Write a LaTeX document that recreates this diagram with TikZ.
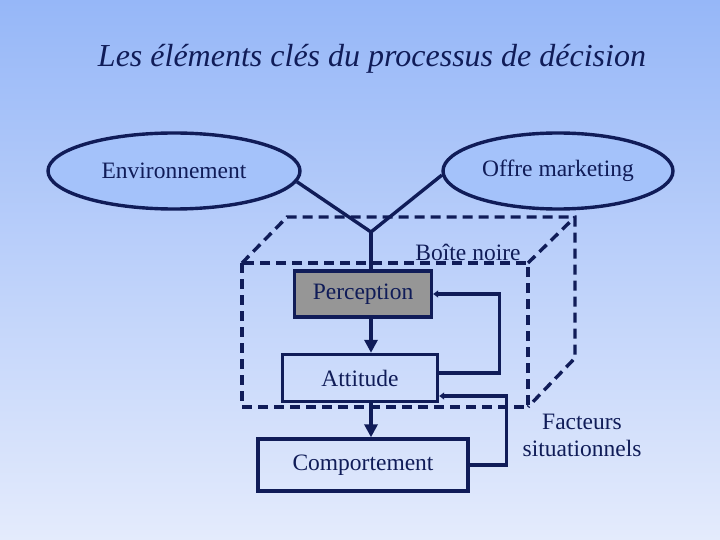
\documentclass[tikz,border=0pt]{standalone}
\usepackage{fontspec}
\setmainfont{Liberation Serif}
\usetikzlibrary{shapes.geometric,arrows.meta}
\definecolor{navy}{RGB}{16,28,88}
\definecolor{bgtop}{RGB}{150,183,248}
\definecolor{bgbot}{RGB}{228,235,252}
\definecolor{ovalfill}{RGB}{164,194,250}
\definecolor{percfill}{RGB}{150,150,150}

\begin{document}
\begin{tikzpicture}[x=1pt,y=-1pt,line width=3.4pt,draw=navy,
  every node/.style={text=navy,font=\fontsize{23.5}{27}\selectfont},
  oval/.style={ellipse,draw=navy,fill=ovalfill,inner sep=0pt},
  box/.style={rectangle,draw=navy,inner sep=0pt},
  cube/.style={dash pattern=on 10pt off 6pt},
  fleche/.style={-{Triangle[width=13pt,length=13pt]}},
  petite/.style={-{Triangle[width=7pt,length=5pt]}}]
  \shade[top color=bgtop,bottom color=bgbot] (0,0) rectangle (720,540);
  \useasboundingbox (0,0) rectangle (720,540);
  \node[font=\fontsize{32}{38}\selectfont\itshape] (titre) at (372,59) {Les éléments clés du processus de décision};
  % la boite noire
  \draw[cube] (242,263) rectangle (528,407);
  \draw[cube] (242,263) -- (287,217) -- (575,217) -- (575,358) -- (528,407);
  \draw[cube] (528,263) -- (575,217);
  \node (bn) at (468,252) {Boîte noire};
  % les stimuli
  \node[oval,minimum width=252pt,minimum height=76pt,text depth=-2pt] (env) at (174,171) {Environnement};
  \node[oval,minimum width=230pt,minimum height=76pt] (offre) at (558,171) {Offre marketing};
  \coordinate (v) at (371,232);
  % les etapes
  \node[box,fill=percfill,minimum width=137pt,minimum height=46pt] (perc) at (363,294) {Perception};
  \node[box,minimum width=155pt,minimum height=47pt] (att) at (360,378) {Attitude};
  \node[box,minimum width=210pt,minimum height=52pt] (comp) at (363,465) {Comportement};
  \node[align=center] (fact) at (582,435) {Facteurs\\situationnels};
  \draw (env.-5) -- (v) -- (offre.182);
  \draw (v) -- (v |- perc.north);
  \draw[fleche] (v |- perc.south) -- (v |- att.north);
  \draw[fleche] (v |- att.south) -- (v |- comp.north);
  \draw[petite] ([yshift=5pt]att.east) -- ++(60,0) |- (perc.east);
  \draw[petite] (comp.east) -- ++(37,0) |- ([yshift=-18pt]att.east);
\end{tikzpicture}
\end{document}
